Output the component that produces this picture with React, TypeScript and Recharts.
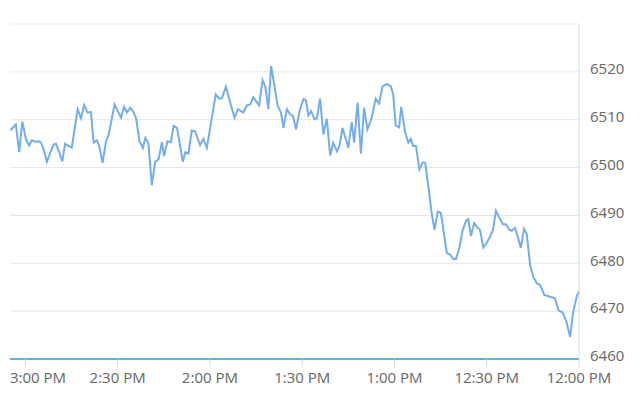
import { LineChart, Line, XAxis, YAxis, CartesianGrid } from 'recharts';

// minutes after 12:00 PM (axis runs right-to-left)
const minutes = [
    184.9, 183.1, 182.0, 181.0, 179.8, 178.8, 177.9, 176.8, 175.7, 174.9,
    174.1, 173.0, 171.9, 170.8, 170.1, 169.1, 168.0, 167.1, 166.0, 164.9,
    163.0, 161.9, 160.9, 159.8, 158.7, 157.8, 156.7, 156.0, 154.9, 153.8,
    153.0, 151.0, 148.9, 147.9, 147.0, 145.9, 145.0, 144.0, 142.9, 141.8,
    141.0, 140.0, 138.9, 137.8, 136.7, 135.6, 134.9, 133.8, 132.7, 131.8,
    130.7, 128.8, 128.0, 127.0, 125.9, 124.8, 123.2, 122.1, 121.0, 118.1,
    117.0, 116.1, 114.8, 113.4, 112.0, 110.9, 109.1, 108.0, 106.9, 105.9,
    104.0, 102.9, 102.0, 101.0, 100.1, 99.1, 98.0, 96.9, 96.1, 95.0,
    93.9, 93.0, 92.0, 90.7, 89.6, 88.8, 88.0, 87.1, 86.0, 85.2,
    84.2, 83.1, 82.0, 80.9, 79.9, 78.7, 77.9, 76.9, 75.8, 75.0,
    73.9, 73.1, 72.0, 70.9, 69.9, 68.8, 67.4, 66.1, 65.0, 63.9,
    62.5, 61.2, 60.4, 59.6, 58.5, 57.8, 56.5, 55.5, 54.7, 53.9,
    53.0, 51.9, 50.8, 50.0, 49.0, 47.9, 47.0, 45.9, 44.9, 43.0,
    41.9, 40.9, 40.0, 38.9, 37.8, 36.7, 36.0, 35.1, 34.1, 33.1,
    32.2, 31.1, 30.0, 28.9, 28.0, 27.0, 25.9, 24.8, 23.7, 22.7,
    21.9, 20.8, 19.7, 18.9, 17.9, 17.0, 15.9, 14.9, 13.7, 12.7,
    11.3, 9.4, 7.8, 6.7, 5.4, 4.2, 2.9, 1.9, 0.7, 0,
];

const prices = [
    6507.8, 6509.0, 6503.3, 6509.6, 6505.9, 6504.6, 6505.7, 6505.4, 6505.5, 6505.2,
    6503.8, 6501.2, 6503.1, 6504.8, 6505.0, 6503.4, 6501.3, 6505.0, 6504.5, 6504.2,
    6512.2, 6510.3, 6513.1, 6511.5, 6511.6, 6505.2, 6505.7, 6504.5, 6501.0, 6505.5,
    6506.6, 6513.2, 6510.4, 6512.7, 6511.5, 6512.5, 6511.8, 6510.3, 6505.5, 6504.1,
    6506.2, 6505.0, 6496.3, 6501.2, 6501.7, 6505.3, 6502.4, 6505.5, 6505.3, 6508.7,
    6508.3, 6501.2, 6503.2, 6502.9, 6507.8, 6507.6, 6504.7, 6506.0, 6504.1, 6515.3,
    6514.4, 6514.5, 6516.9, 6513.6, 6510.4, 6512.2, 6511.5, 6513.0, 6513.2, 6514.7,
    6513.0, 6518.3, 6516.9, 6512.2, 6521.2, 6517.4, 6513.0, 6511.5, 6508.3, 6512.2,
    6511.1, 6510.8, 6508.0, 6512.2, 6514.3, 6514.1, 6510.9, 6511.8, 6510.1, 6510.3,
    6514.4, 6506.9, 6510.2, 6502.5, 6505.2, 6503.4, 6504.5, 6508.3, 6505.9, 6504.1,
    6509.5, 6505.2, 6513.6, 6502.9, 6512.5, 6508.0, 6510.4, 6514.4, 6513.4, 6516.9,
    6517.5, 6517.0, 6515.3, 6508.8, 6508.4, 6512.7, 6507.3, 6505.2, 6506.0, 6504.5,
    6504.5, 6499.6, 6501.1, 6501.0, 6496.1, 6490.5, 6487.0, 6490.8, 6490.5, 6482.2,
    6481.8, 6480.9, 6480.9, 6483.2, 6487.0, 6488.9, 6489.2, 6485.7, 6488.4, 6487.5,
    6487.0, 6483.3, 6484.3, 6485.6, 6486.9, 6491.0, 6489.5, 6488.2, 6488.1, 6487.0,
    6486.8, 6487.4, 6485.1, 6483.2, 6487.2, 6486.1, 6479.7, 6477.2, 6475.8, 6475.5,
    6473.4, 6473.0, 6472.7, 6470.2, 6469.7, 6468.1, 6464.6, 6469.8, 6473.2, 6474.1,
];

const timeTicks = [0, 30, 60, 90, 120, 150, 180];
const timeLabels = ['12:00 PM', '12:30 PM', '1:00 PM', '1:30 PM', '2:00 PM', '2:30 PM', '3:00 PM'];
const priceTicks = [6460, 6470, 6480, 6490, 6500, 6510, 6520, 6530];

const data = minutes.map((m, i) => ({ t: m, price: prices[i] }));

const font = "'Open Sans', sans-serif";
const PLOT_LEFT = 10;

// keeps the leftmost label inside the plot, like the original
function TimeTick(props: any) {
    const { x, y, payload } = props;
    const label = timeLabels[timeTicks.indexOf(payload.value)];
    const edge = payload.value === 180;
    return (
        <text
            x={edge ? PLOT_LEFT : x}
            y={y}
            dy="0.71em"
            textAnchor={edge ? 'start' : 'middle'}
            fontSize={15}
            fill="#666"
            fontFamily={font}
        >
            {label}
        </text>
    );
}

export default function App() {
    return (
        <div style={{ position: 'absolute', left: 0, top: 0 }}>
            <LineChart width={640} height={394} data={data} margin={{ top: 24, right: 0, left: PLOT_LEFT, bottom: 0 }}>
                <CartesianGrid vertical={false} stroke="#e6e6e6" />
                <XAxis
                    dataKey="t"
                    type="number"
                    domain={[0, 185]}
                    reversed
                    ticks={timeTicks}
                    height={35}
                    axisLine={{ stroke: '#5bb8c9', strokeWidth: 2 }}
                    tickLine={{ stroke: '#ccd6eb' }}
                    tickSize={8}
                    tickMargin={5}
                    tick={<TimeTick />}
                    interval={0}
                />
                <YAxis
                    orientation="right"
                    width={61}
                    domain={[6460, 6530]}
                    ticks={priceTicks}
                    tickFormatter={(v: number) => (v === 6530 ? '' : String(v))}
                    axisLine={{ stroke: '#ccd6eb' }}
                    tickLine={false}
                    tickSize={0}
                    tickMargin={11}
                    tick={{ fontSize: 15, fill: '#666', fontFamily: font, dy: -3 }}
                    interval={0}
                />
                <Line
                    type="linear"
                    dataKey="price"
                    stroke="#74aeea"
                    strokeWidth={2}
                    dot={false}
                    isAnimationActive={false}
                />
            </LineChart>
        </div>
    );
}
